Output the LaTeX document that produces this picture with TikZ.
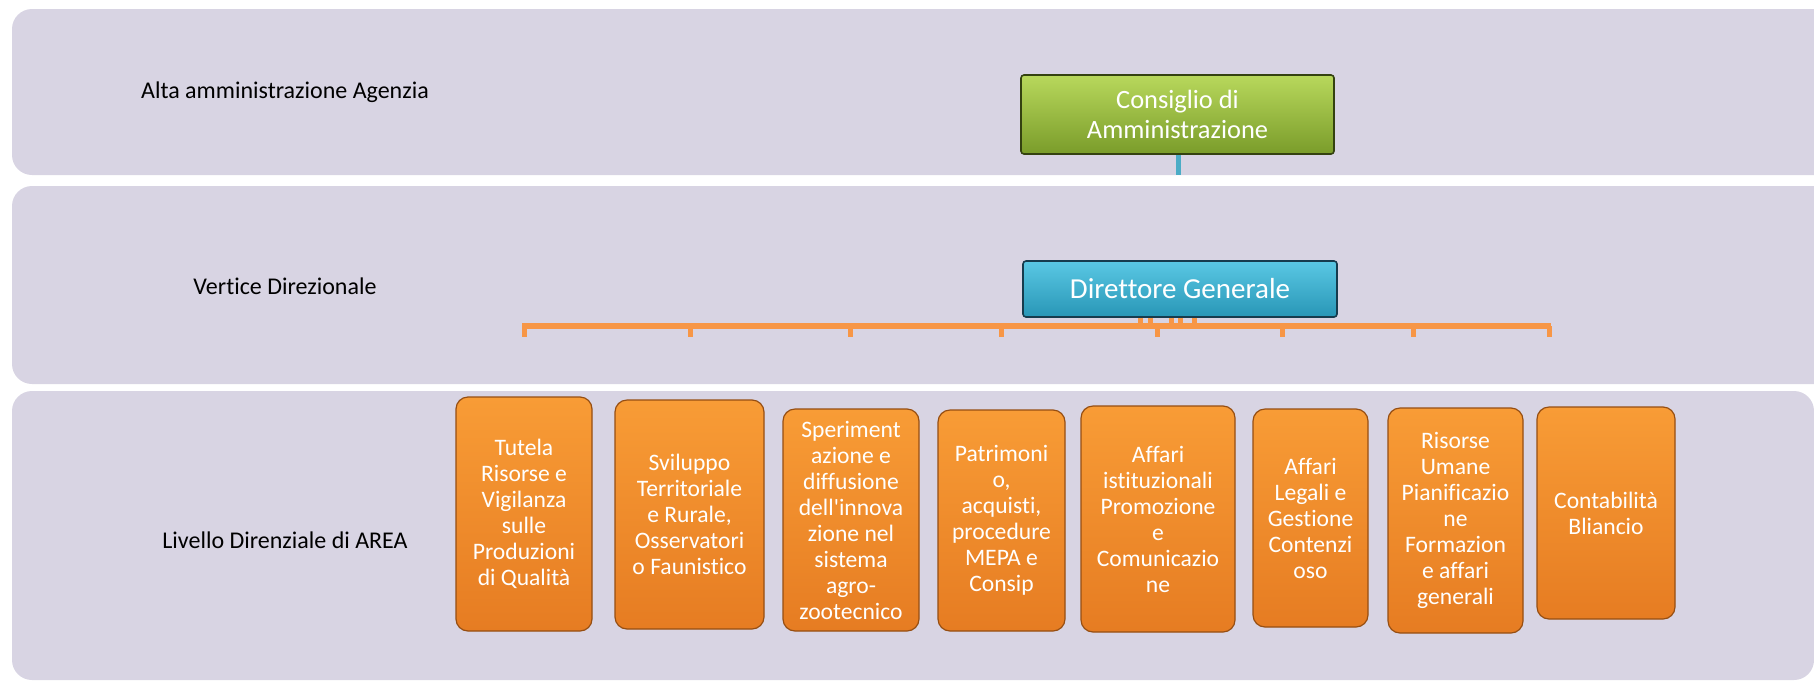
\documentclass[tikz,border=0pt]{standalone}
\usepackage{fontspec}
\setmainfont{Carlito}[RawFeature=-liga]
\usepackage{xcolor}
\usetikzlibrary{positioning, arrows.meta, calc}

\definecolor{bandfill}{HTML}{D8D4E3}
\definecolor{busor}{HTML}{F79646}
\definecolor{linkteal}{HTML}{4BACC6}

\begin{document}
\begin{tikzpicture}[x=0.5pt, y=-0.5pt,
          band/.style={fill=bandfill, rounded corners=10pt},
          lvl/.style={font=\fontsize{12}{14}\selectfont, text=black},
          area/.style={rounded corners=6pt, draw={rgb,255:red,150;green,78;blue,18}, line width=0.6pt,
            top color={rgb,255:red,248;green,156;blue,54}, bottom color={rgb,255:red,230;green,124;blue,34},
            text=white, align=center, inner sep=1pt, font=\fontsize{11.8}{13}\selectfont},
          cda/.style={rounded corners=1.5pt, draw={rgb,255:red,52;green,66;blue,16}, line width=0.8pt,
            top color={rgb,255:red,184;green,216;blue,92}, bottom color={rgb,255:red,122;green,156;blue,42},
            text=white, align=center, font=\fontsize{13.2}{15}\selectfont},
          dg/.style={rounded corners=1.5pt, draw={rgb,255:red,22;green,60;blue,78}, line width=0.8pt,
            top color={rgb,255:red,90;green,200;blue,228}, bottom color={rgb,255:red,40;green,150;blue,182},
            text=white, align=center, font=\fontsize{14.5}{17}\selectfont},
          bus/.style={draw=busor, line width=3pt},
          tick/.style={draw=busor, line width=2.5pt},
          link/.style={draw=linkteal, line width=2.5pt}]
        \useasboundingbox (0,0) rectangle (1814,681);
        \clip (0,0) rectangle (1814,681);
        % fasce di livello
        \path[band] (12,9) rectangle (1850,175);
        \path[band] (12,186) rectangle (1850,384);
        \path[band] (12,391) rectangle (1814,680);
        \node[lvl] (l1) at (285,92) {Alta amministrazione Agenzia};
        \node[lvl] (l2) at (285,286) {Vertice Direzionale};
        \node[lvl] (l3) at (285,540) {Livello Direnziale di AREA};
        % vertice
        \node[cda, minimum width=156.5pt, minimum height=39.5pt] (cons) at (1177.5,114.5) {Consiglio di\\Amministrazione};
        \node[dg, minimum width=157pt, minimum height=28pt] (dirg) at (1180,289) {Direttore Generale};
        \coordinate (consend) at (1178,175);
        \draw[link] (cons.south -| consend) -- (consend);
        % barra delle aree
        \coordinate (busL) at (522,326);
        \coordinate (busR) at (1551,326);
        \foreach \sx in {1140,1150,1171,1180,1194}
          \draw[tick] (\sx,326 |- dirg.south) -- (\sx,326);
        \draw[bus] (busL) -- (busR);
        \foreach \tx in {524,690,850,1001,1157,1282,1413,1549}
          \draw[tick] (\tx,326) -- ++(0,11);
        % aree
        \node[area, minimum width=68pt, minimum height=117pt] (a1) at (524,514) {Tutela\\Risorse e\\Vigilanza\\sulle\\Produzioni\\di Qualità};
        \node[area, minimum width=74.5pt, minimum height=114.5pt] (a2) at (689.5,514.5) {Sviluppo\\Territoriale\\e Rurale,\\Osservatori\\o Faunistico};
        \node[area, minimum width=68pt, minimum height=111pt] (a3) at (851,520) {Speriment\\azione e\\diffusione\\dell\textquotesingle innova\\zione nel\\sistema\\agro-\\zootecnico};
        \node[area, minimum width=63.5pt, minimum height=110.5pt] (a4) at (1001.5,520.5) {Patrimoni\\o,\\acquisti,\\procedure\\MEPA e\\Consip};
        \node[area, minimum width=77pt, minimum height=113pt] (a5) at (1158,519) {Affari\\istituzionali\\Promozione\\e\\Comunicazio\\ne};
        \node[area, minimum width=57.5pt, minimum height=109pt] (a6) at (1310.5,518) {Affari\\Legali e\\Gestione\\Contenzi\\oso};
        \node[area, minimum width=67.5pt, minimum height=112.5pt] (a7) at (1455.5,520.5) {Risorse\\Umane\\Pianificazio\\ne\\Formazion\\e affari\\generali};
        \node[area, minimum width=69pt, minimum height=106pt] (a8) at (1606,513) {Contabilità\\Bliancio};
      \end{tikzpicture}
\end{document}
